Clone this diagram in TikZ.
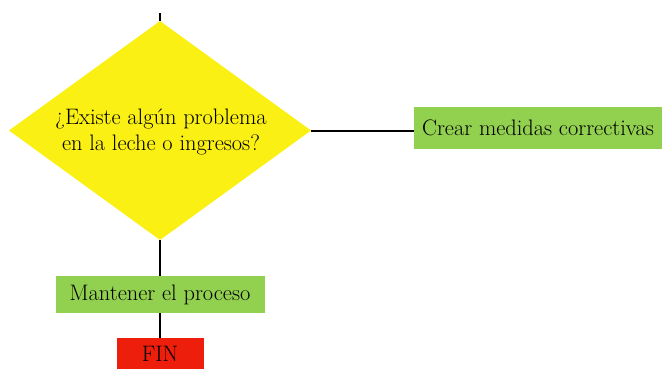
\documentclass[tikz,border=0pt]{standalone}
\usepackage{fontspec}
\usepackage{tikz}
\usetikzlibrary{shapes.geometric}

\definecolor{amarillo}{RGB}{250,240,20}
\definecolor{verde}{RGB}{146,208,80}
\definecolor{rojo}{RGB}{238,30,12}

\tikzset{
  pregunta/.style={diamond,fill=amarillo,inner sep=0pt,outer sep=0pt,
    minimum width=226.5pt,minimum height=164.25pt},
  caja/.style={rectangle,inner sep=0pt,outer sep=0pt,fill=verde},
  fin/.style={rectangle,inner sep=0pt,outer sep=0pt,fill=rojo},
}

\begin{document}
\begin{tikzpicture}[x=0.75pt,y=-0.75pt,line width=1.5pt,
    font=\fontsize{16.8}{20}\selectfont]
    \useasboundingbox (0,0) rectangle (662,369);
    \coordinate (inicio) at (160,13);
    \node[pregunta] (existe) at (160,130.5) {};
    \node[align=center] (texto) at (161,132) {¿Existe algún problema\\en la leche o ingresos?};
    \node[caja,minimum width=186pt,minimum height=31.5pt] (crear) at (538,128) {Crear medidas correctivas};
    \node[caja,minimum width=156.75pt,minimum height=27.75pt] (mantener) at (160,294.5) {Mantener el proceso};
    \node[fin,minimum width=65.25pt,minimum height=23.25pt] (final) at (160,353.5) {FIN};

    \draw (inicio) -- (existe.north);
    \draw (existe.east) -- (existe.east -| crear.west);
    \draw (existe.south) -- (mantener.north);
    \draw (mantener.south) -- (final.north);
\end{tikzpicture}
\end{document}
